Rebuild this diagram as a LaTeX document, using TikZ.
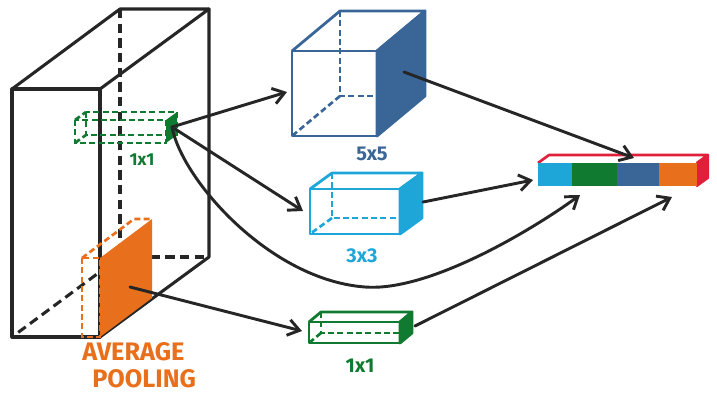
\documentclass[tikz,border=0pt]{standalone}
\usepackage{fontspec}
\setmainfont{Fira Sans}
\usetikzlibrary{arrows.meta}
\definecolor{cdblue}{HTML}{3A6597}
\definecolor{ccyan}{HTML}{1FA6D8}
\definecolor{cgreen}{HTML}{0F7A30}
\definecolor{corange}{HTML}{E8701C}
\definecolor{cred}{HTML}{E0203A}
\definecolor{cblack}{HTML}{262626}
\tikzset{
  blk/.style={draw=cblack,line width=2.3pt,line join=round,line cap=round},
  blkdash/.style={draw=cblack,line width=2.3pt,dash pattern=on 7pt off 4pt},
  cl/.style={line width=2.1pt,line join=round},
  cldash/.style={line width=2pt,dash pattern=on 4.5pt off 2.5pt},
  conn/.style={draw=cblack,line width=2.2pt,line cap=round,-{Straight Barb[length=3mm,width=4.2mm,line width=2.2pt]}},
  lbl/.style={font=\bfseries\fontsize{15}{15}\selectfont,inner sep=0pt}
}
\begin{document}
\begin{tikzpicture}[x=0.75pt,y=-0.75pt]
\useasboundingbox (0,0) rectangle (717,400);
% big box
\coordinate (F1) at (12,89); \coordinate (F2) at (100,89);
\coordinate (F3) at (100,337); \coordinate (F4) at (12,337);
\coordinate (B1) at (120,9); \coordinate (B2) at (209,9);
\coordinate (B3) at (209,257); \coordinate (B4) at (120,257);
\draw[blkdash] (B1) -- (B4) -- (B3);
\draw[blkdash] (B4) -- (F4);
\draw[blk] (F1) -- (F2) -- (F3) -- (F4) -- cycle;
\draw[blk] (F1) -- (B1) -- (B2) -- (F2);
\draw[blk] (B2) -- (B3) -- (F3);
% orange slab
\fill[corange] (100,258) -- (152,219) -- (152,298) -- (100,337) -- cycle;
\draw[corange,cldash] (82,258) rectangle (100,337);
\draw[corange,cldash] (82,258) -- (134,219) -- (152,219);
% green thin box
\draw[cgreen,cldash] (75,120) rectangle (166,143);
\draw[cgreen,cldash] (86,112) rectangle (177,135);
\draw[cgreen,cldash] (75,120) -- (86,112) (75,143) -- (86,135);
\fill[cgreen] (166,120) -- (177,112) -- (177,135) -- (166,143) -- cycle;
\node[lbl,text=cgreen,font=\bfseries\fontsize{13}{13}\selectfont] (l11a) at (142,160) {1x1};
% 5x5 cube
\draw[cdblue,cldash] (340,11) -- (340,96) -- (425,96);
\draw[cdblue,cldash] (340,96) -- (292,136);
\draw[cdblue,cl] (292,51) rectangle (377,136);
\draw[cdblue,cl] (292,51) -- (340,11) -- (425,11) -- (377,51);
\filldraw[cdblue,cl] (377,51) -- (425,11) -- (425,96) -- (377,136) -- cycle;
\node[lbl,text=cdblue] (l55) at (372,154) {5x5};
% 3x3 box
\draw[ccyan,cldash] (332,173) -- (332,218) -- (422,218);
\draw[ccyan,cldash] (332,218) -- (310,234);
\draw[ccyan,cl] (310,189) rectangle (400,234);
\draw[ccyan,cl] (310,189) -- (332,173) -- (422,173) -- (400,189);
\filldraw[ccyan,cl] (400,189) -- (422,173) -- (422,218) -- (400,234) -- cycle;
\node[lbl,text=ccyan] (l33) at (362,256) {3x3};
% 1x1 box
\draw[cgreen,cldash] (321,312) -- (321,333) -- (412,333);
\draw[cgreen,cldash] (321,333) -- (309,343);
\draw[cgreen,cl] (309,322) rectangle (400,343);
\draw[cgreen,cl] (309,322) -- (321,312) -- (412,312) -- (400,322);
\filldraw[cgreen,cl] (400,322) -- (412,312) -- (412,333) -- (400,343) -- cycle;
\node[lbl,text=cgreen] (l11b) at (360,366) {1x1};
% output bar
\draw[cred,line width=2pt,line join=round] (538,163) -- (549,155) -- (708,155) -- (697,163);
\filldraw[cred,line width=1.5pt,line join=round] (697,163) -- (708,155) -- (708,178) -- (697,186) -- cycle;
\fill[ccyan] (538,163) rectangle (572,186);
\fill[cgreen] (572,163) rectangle (617,186);
\fill[cdblue] (617,163) rectangle (659,186);
\fill[corange] (659,163) rectangle (697,186);
% labels
\node[lbl,text=corange,font=\bfseries\fontsize{19}{19}\selectfont,anchor=west] (lavg) at (82,352) {AVERAGE};
\node[lbl,text=corange,font=\bfseries\fontsize{19}{19}\selectfont,anchor=west] (lpool) at (92,379) {POOLING};
% connector end points
\coordinate (g) at (172,127);
\coordinate (c5in) at (287,92);
\coordinate (c3in) at (303,211);
\coordinate (c5out) at (404,72);
\coordinate (c3out) at (423,202);
\coordinate (c1in) at (302,331);
\coordinate (c1out) at (415,326);
\coordinate (o) at (130,287);
\coordinate (tblue) at (634,158);
\coordinate (tcyan) at (533,180);
\coordinate (tgreen) at (580,195);
\coordinate (torange) at (672,197);
\draw[conn] (g) -- (c5in);
\draw[conn] (g) -- (c3in);
\draw[conn] (g) .. controls (182,180) and (270,280) .. (365,287) .. controls (430,292) and (535,228) .. (tgreen);
\draw[conn] (c5out) -- (tblue);
\draw[conn] (c3out) -- (tcyan);
\draw[conn] (c1out) -- (torange);
\draw[conn] (o) -- (c1in);
\end{tikzpicture}
\end{document}
